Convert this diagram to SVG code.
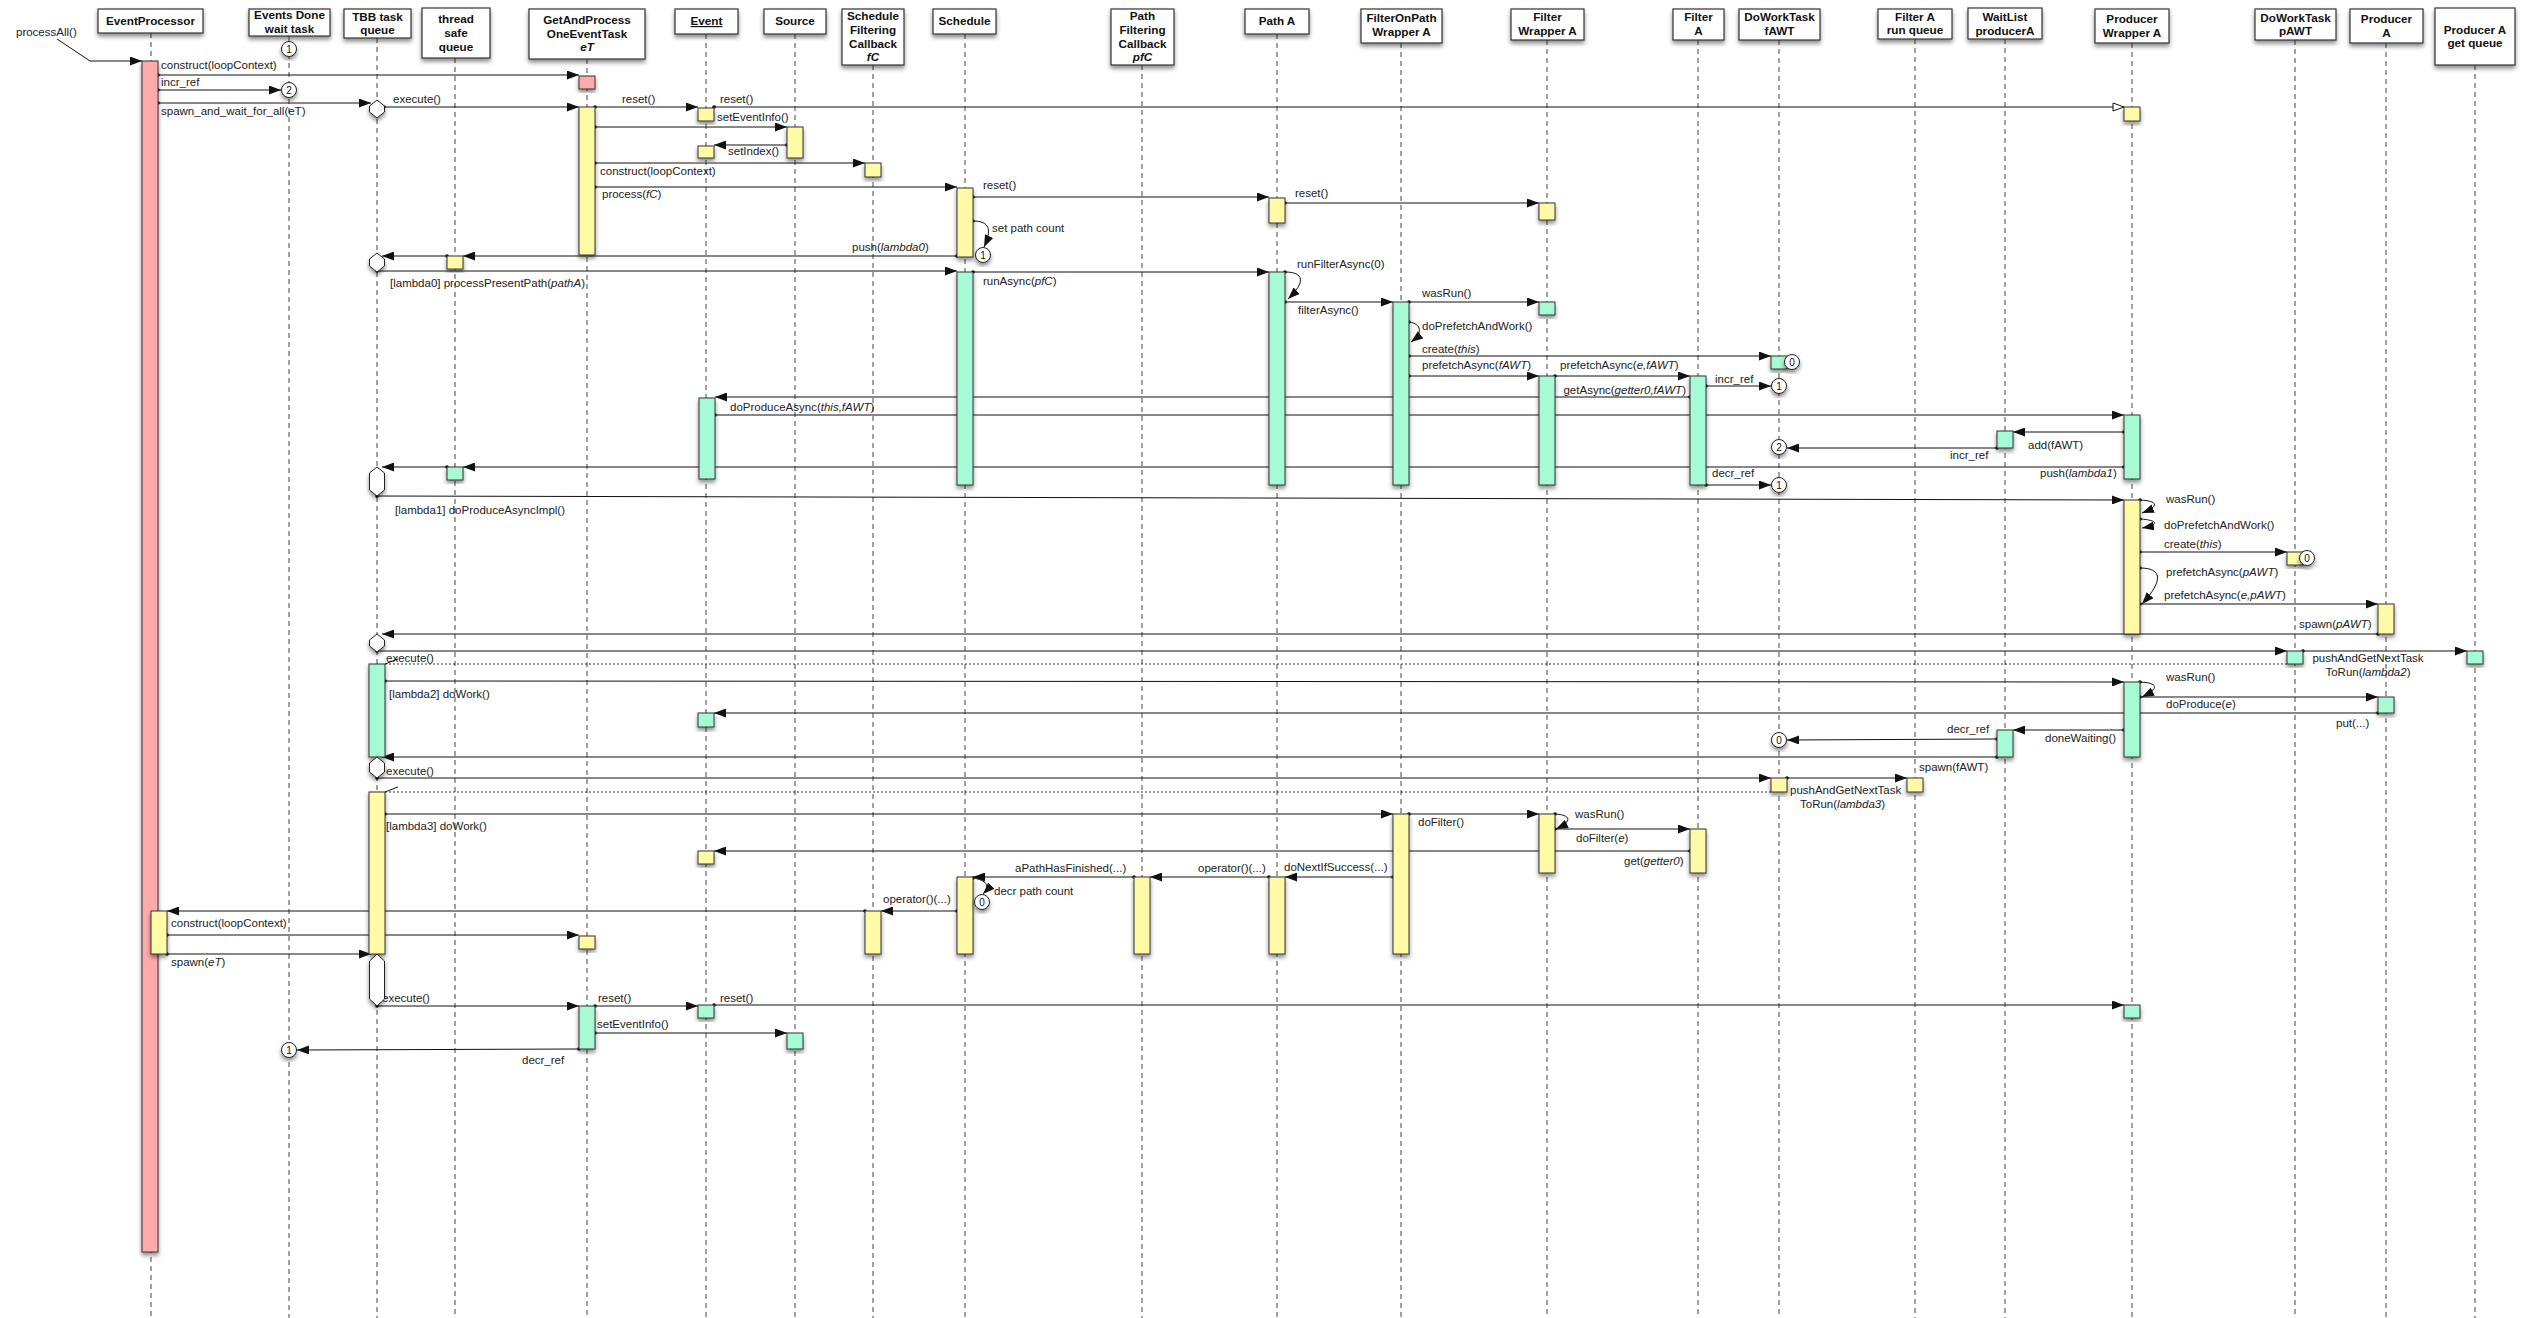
<svg xmlns="http://www.w3.org/2000/svg" width="2523" height="1318" viewBox="0 0 2523 1318">
<defs>
<filter id="sh" x="-30%" y="-30%" width="160%" height="160%"><feDropShadow dx="0" dy="3" stdDeviation="2" flood-color="#000" flood-opacity="0.45"/></filter>
<marker id="ah" viewBox="0 0 12 9" refX="12" refY="4.5" markerWidth="12" markerHeight="9" markerUnits="userSpaceOnUse" orient="auto"><path d="M0,0 L12,4.5 L0,9 z" fill="#111"/></marker>
<marker id="ao" viewBox="0 0 13 10" refX="12" refY="5" markerWidth="13" markerHeight="10" markerUnits="userSpaceOnUse" orient="auto"><path d="M1,1 L12,5 L1,9 z" fill="#fff" stroke="#111" stroke-width="1"/></marker>
<marker id="dt" viewBox="0 0 4 4" refX="2" refY="2" markerWidth="4" markerHeight="4" markerUnits="userSpaceOnUse"><circle cx="2" cy="2" r="1.8" fill="#111"/></marker>
</defs>
<style>
.hb{fill:#fff;stroke:#333;stroke-width:1.2;filter:url(#sh)}
.ht{font-family:"Liberation Sans",Arial,sans-serif;font-weight:bold;font-size:11.7px;text-anchor:middle;fill:#111}
.ll{stroke:#444;stroke-width:1;stroke-dasharray:5 4}
.m{stroke:#111;stroke-width:1;fill:none;marker-end:url(#ah);marker-start:url(#dt)}
.mo{stroke:#111;stroke-width:1;fill:none;marker-end:url(#ao);marker-start:url(#dt)}
.d{stroke:#333;stroke-width:1;fill:none;stroke-dasharray:2 2}
.k{stroke:#111;stroke-width:1;fill:none}
.l{font-family:"Liberation Sans",Arial,sans-serif;font-size:11.5px;fill:#222}
.i{font-style:italic}
.ap{fill:#FFAAAA;stroke:#333;stroke-width:1;filter:url(#sh)}
.ay{fill:#FFFAA6;stroke:#333;stroke-width:1;filter:url(#sh)}
.ag{fill:#A6FAD5;stroke:#333;stroke-width:1;filter:url(#sh)}
.hx{fill:#fff;stroke:#222;stroke-width:1;filter:url(#sh)}
.cc{fill:#fff;stroke:#222;stroke-width:1;filter:url(#sh)}
.ct{font-family:"Liberation Sans",Arial,sans-serif;font-size:10px;text-anchor:middle;fill:#111}
</style>
<rect x="0" y="0" width="2523" height="1318" fill="#fff"/>

<g id="n-eventprocessor"><line class="ll" x1="151" y1="33" x2="151" y2="1318"/><rect class="hb" x="98" y="9" width="105" height="24"/><text class="ht" x="150.5" y="25">EventProcessor</text></g>
<g id="n-eventsdone"><line class="ll" x1="289" y1="36" x2="289" y2="1318"/><rect class="hb" x="249" y="9" width="81" height="27"/><text class="ht" x="289.5" y="19">Events Done</text><text class="ht" x="289.5" y="33">wait task</text></g>
<g id="n-tbb"><line class="ll" x1="377" y1="38" x2="377" y2="1318"/><rect class="hb" x="344" y="9" width="67" height="29"/><text class="ht" x="377.5" y="21">TBB task</text><text class="ht" x="377.5" y="34">queue</text></g>
<g id="n-tsq"><line class="ll" x1="455" y1="58" x2="455" y2="1318"/><rect class="hb" x="422" y="8" width="68" height="50"/><text class="ht" x="456" y="23">thread</text><text class="ht" x="456" y="37">safe</text><text class="ht" x="456" y="51">queue</text></g>
<g id="n-gap"><line class="ll" x1="587" y1="59" x2="587" y2="1318"/><rect class="hb" x="529" y="9" width="116" height="50"/><text class="ht" x="587" y="24">GetAndProcess</text><text class="ht" x="587" y="38">OneEventTask</text><text class="ht i" x="587" y="51">eT</text></g>
<g id="n-event"><line class="ll" x1="706" y1="34" x2="706" y2="1318"/><rect class="hb" x="675" y="9" width="63" height="25"/><text class="ht" x="706.5" y="25" text-decoration="underline">Event</text></g>
<g id="n-source"><line class="ll" x1="795" y1="34" x2="795" y2="1318"/><rect class="hb" x="764" y="9" width="62" height="25"/><text class="ht" x="795" y="25">Source</text></g>
<g id="n-sfc"><line class="ll" x1="873" y1="65" x2="873" y2="1318"/><rect class="hb" x="842" y="9" width="62" height="56"/><text class="ht" x="873" y="20">Schedule</text><text class="ht" x="873" y="34">Filtering</text><text class="ht" x="873" y="48">Callback</text><text class="ht i" x="873" y="61">fC</text></g>
<g id="n-schedule"><line class="ll" x1="965" y1="34" x2="965" y2="1318"/><rect class="hb" x="933" y="9" width="63" height="25"/><text class="ht" x="964.5" y="25">Schedule</text></g>
<g id="n-pfc"><line class="ll" x1="1142" y1="65" x2="1142" y2="1318"/><rect class="hb" x="1111" y="9" width="63" height="56"/><text class="ht" x="1142.5" y="20">Path</text><text class="ht" x="1142.5" y="34">Filtering</text><text class="ht" x="1142.5" y="48">Callback</text><text class="ht i" x="1142.5" y="61">pfC</text></g>
<g id="n-patha"><line class="ll" x1="1277" y1="34" x2="1277" y2="1318"/><rect class="hb" x="1245" y="9" width="64" height="25"/><text class="ht" x="1277" y="25">Path A</text></g>
<g id="n-fopw"><line class="ll" x1="1401" y1="43" x2="1401" y2="1318"/><rect class="hb" x="1361" y="9" width="81" height="34"/><text class="ht" x="1401.5" y="22">FilterOnPath</text><text class="ht" x="1401.5" y="36">Wrapper A</text></g>
<g id="n-fwa"><line class="ll" x1="1547" y1="40" x2="1547" y2="1318"/><rect class="hb" x="1511" y="9" width="73" height="31"/><text class="ht" x="1547.5" y="21">Filter</text><text class="ht" x="1547.5" y="35">Wrapper A</text></g>
<g id="n-fa"><line class="ll" x1="1698" y1="40" x2="1698" y2="1318"/><rect class="hb" x="1673" y="9" width="51" height="31"/><text class="ht" x="1698.5" y="21">Filter</text><text class="ht" x="1698.5" y="35">A</text></g>
<g id="n-dwtf"><line class="ll" x1="1779" y1="40" x2="1779" y2="1318"/><rect class="hb" x="1739" y="9" width="81" height="31"/><text class="ht" x="1779.5" y="21">DoWorkTask</text><text class="ht" x="1779.5" y="35">fAWT</text></g>
<g id="n-farq"><line class="ll" x1="1915" y1="39" x2="1915" y2="1318"/><rect class="hb" x="1878" y="9" width="74" height="30"/><text class="ht" x="1915" y="21">Filter A</text><text class="ht" x="1915" y="34">run queue</text></g>
<g id="n-waitlist"><line class="ll" x1="2005" y1="39" x2="2005" y2="1318"/><rect class="hb" x="1968" y="8" width="74" height="31"/><text class="ht" x="2005" y="21">WaitList</text><text class="ht" x="2005" y="35">producerA</text></g>
<g id="n-pwa"><line class="ll" x1="2132" y1="43" x2="2132" y2="1318"/><rect class="hb" x="2095" y="9" width="74" height="34"/><text class="ht" x="2132" y="23">Producer</text><text class="ht" x="2132" y="37">Wrapper A</text></g>
<g id="n-dwtp"><line class="ll" x1="2295" y1="40" x2="2295" y2="1318"/><rect class="hb" x="2255" y="9" width="81" height="31"/><text class="ht" x="2295.5" y="22">DoWorkTask</text><text class="ht" x="2295.5" y="35">pAWT</text></g>
<g id="n-producera"><line class="ll" x1="2386" y1="43" x2="2386" y2="1318"/><rect class="hb" x="2350" y="9" width="73" height="34"/><text class="ht" x="2386.5" y="23">Producer</text><text class="ht" x="2386.5" y="37">A</text></g>
<g id="n-pgq"><line class="ll" x1="2475" y1="65" x2="2475" y2="1318"/><rect class="hb" x="2435" y="8" width="80" height="57"/><text class="ht" x="2475" y="34">Producer A</text><text class="ht" x="2475" y="47">get queue</text></g>

<g id="connectors">
<text class="l" x="16" y="36">processAll()</text>
<polyline class="k" points="57,39 90,61 142,61" style="marker-end:url(#ah)"/>
<line class="m" x1="158" y1="75" x2="579" y2="75"/><text class="l" x="161" y="69">construct(loopContext)</text>
<line class="m" x1="158" y1="90" x2="281" y2="90"/><text class="l" x="161" y="86">incr_ref</text>
<line class="m" x1="158" y1="103" x2="371" y2="103"/><text class="l" x="161" y="115">spawn_and_wait_for_all(eT)</text>
<line class="m" x1="384" y1="107" x2="579" y2="107"/><text class="l" x="393" y="103">execute()</text>
<line class="m" x1="595" y1="107" x2="698" y2="107"/><text class="l" x="622" y="103">reset()</text>
<line class="mo" x1="714" y1="107" x2="2124" y2="107"/><text class="l" x="720" y="103">reset()</text>
<line class="m" x1="595" y1="127" x2="787" y2="127"/><text class="l" x="717" y="121">setEventInfo()</text>
<line class="m" x1="787" y1="145" x2="714" y2="145"/><text class="l" x="728" y="155">setIndex()</text>
<line class="m" x1="595" y1="163" x2="865" y2="163"/><text class="l" x="600" y="175">construct(loopContext)</text>
<line class="m" x1="595" y1="187" x2="957" y2="187"/><text class="l" x="602" y="198">process(<tspan class="i">fC</tspan>)</text>
<line class="m" x1="973" y1="197" x2="1269" y2="197"/><text class="l" x="983" y="189">reset()</text>
<line class="m" x1="1285" y1="203" x2="1539" y2="203"/><text class="l" x="1295" y="197">reset()</text>
<path class="m" d="M973,221 C990,221 992,230 984,247"/><text class="l" x="992" y="232">set path count</text>
<line class="m" x1="957" y1="256" x2="463" y2="256"/><text class="l" x="852" y="251">push(<tspan class="i">lambda0</tspan>)</text>
<line class="m" x1="447" y1="256" x2="382" y2="256"/>
<line class="m" x1="377" y1="271" x2="957" y2="271"/><text class="l" x="390" y="287">[lambda0] processPresentPath(<tspan class="i">pathA</tspan>)</text>
<line class="m" x1="973" y1="272" x2="1269" y2="272"/><text class="l" x="983" y="285">runAsync(<tspan class="i">pfC</tspan>)</text>
<path class="m" d="M1285,272 C1304,272 1306,282 1288,299"/><text class="l" x="1297" y="268">runFilterAsync(0)</text>
<line class="m" x1="1285" y1="302" x2="1393" y2="302"/><text class="l" x="1298" y="314">filterAsync()</text>
<line class="m" x1="1409" y1="302" x2="1539" y2="302"/><text class="l" x="1422" y="297">wasRun()</text>
<path class="m" d="M1409,322 C1422,324 1423,333 1411,342"/><text class="l" x="1422" y="330">doPrefetchAndWork()</text>
<line class="m" x1="1409" y1="356" x2="1771" y2="356"/><text class="l" x="1422" y="353">create(<tspan class="i">this</tspan>)</text>
<line class="m" x1="1409" y1="376" x2="1539" y2="376"/><text class="l" x="1422" y="369">prefetchAsync(<tspan class="i">fAWT</tspan>)</text>
<line class="m" x1="1555" y1="376" x2="1690" y2="376"/><text class="l" x="1560" y="369">prefetchAsync(<tspan class="i">e,fAWT</tspan>)</text>
<line class="m" x1="1706" y1="386" x2="1771" y2="386"/><text class="l" x="1715" y="383">incr_ref</text>
<line class="m" x1="1690" y1="397" x2="715" y2="397"/><text class="l" x="1686" y="394" text-anchor="end">getAsync(<tspan class="i">getter0,fAWT</tspan>)</text>
<line class="m" x1="715" y1="415" x2="2124" y2="415"/><text class="l" x="730" y="411">doProduceAsync(<tspan class="i">this,fAWT</tspan>)</text>
<line class="m" x1="2124" y1="432" x2="2013" y2="432"/><text class="l" x="2028" y="449">add(fAWT)</text>
<line class="m" x1="1997" y1="448" x2="1787" y2="448"/><text class="l" x="1950" y="459">incr_ref</text>
<line class="m" x1="2124" y1="467" x2="463" y2="467"/><text class="l" x="2040" y="477">push(<tspan class="i">lambda1</tspan>)</text>
<line class="m" x1="447" y1="467" x2="382" y2="467"/>
<line class="m" x1="1706" y1="485" x2="1771" y2="485"/><text class="l" x="1712" y="477">decr_ref</text>
<line class="m" x1="377" y1="496" x2="2124" y2="500"/><text class="l" x="395" y="514">[lambda1] doProduceAsyncImpl()</text>
<path class="m" d="M2140,500 C2158,501 2160,506 2142,513"/><text class="l" x="2166" y="503">wasRun()</text>
<path class="m" d="M2140,519 C2158,520 2160,525 2142,528"/><text class="l" x="2164" y="529">doPrefetchAndWork()</text>
<line class="m" x1="2140" y1="552" x2="2287" y2="552"/><text class="l" x="2164" y="548">create(<tspan class="i">this</tspan>)</text>
<path class="m" d="M2140,568 C2162,568 2164,580 2142,604"/><text class="l" x="2166" y="576">prefetchAsync(<tspan class="i">pAWT</tspan>)</text>
<line class="m" x1="2140" y1="604" x2="2378" y2="604"/><text class="l" x="2164" y="599">prefetchAsync(<tspan class="i">e,pAWT</tspan>)</text>
<line class="m" x1="2378" y1="634" x2="382" y2="634"/><text class="l" x="2299" y="628">spawn(<tspan class="i">pAWT</tspan>)</text>
<line class="m" x1="377" y1="651" x2="2287" y2="651"/><text class="l" x="386" y="662">execute()</text>
<line class="m" x1="2303" y1="651" x2="2467" y2="651"/><text class="l" x="2368" y="662" text-anchor="middle">pushAndGetNextTask</text><text class="l" x="2368" y="676" text-anchor="middle">ToRun(<tspan class="i">lambda2</tspan>)</text>
<line class="d" x1="2287" y1="664" x2="385" y2="664"/><path class="k" d="M398,659 L385,664"/>
<line class="m" x1="385" y1="681" x2="2124" y2="682"/><text class="l" x="389" y="698">[lambda2] doWork()</text>
<path class="m" d="M2140,682 C2158,683 2160,688 2142,697"/><text class="l" x="2166" y="681">wasRun()</text>
<line class="m" x1="2140" y1="697" x2="2378" y2="697"/><text class="l" x="2166" y="708">doProduce(<tspan class="i">e</tspan>)</text>
<line class="m" x1="2378" y1="713" x2="714" y2="713"/><text class="l" x="2336" y="727">put(...)</text>
<line class="m" x1="2124" y1="730" x2="2013" y2="730"/><text class="l" x="2045" y="742">doneWaiting()</text>
<line class="m" x1="1997" y1="739" x2="1787" y2="740"/><text class="l" x="1947" y="733">decr_ref</text>
<line class="m" x1="1997" y1="757" x2="382" y2="757"/><text class="l" x="1919" y="771">spawn(fAWT)</text>
<line class="m" x1="377" y1="778" x2="1771" y2="778"/><text class="l" x="386" y="775">execute()</text>
<line class="m" x1="1787" y1="778" x2="1907" y2="778"/><text class="l" x="1790" y="794">pushAndGetNextTask</text><text class="l" x="1800" y="808">ToRun(<tspan class="i">lambda3</tspan>)</text>
<line class="d" x1="1771" y1="792" x2="385" y2="792"/><path class="k" d="M398,787 L385,792"/>
<line class="m" x1="385" y1="814" x2="1393" y2="814"/><text class="l" x="386" y="830">[lambda3] doWork()</text>
<line class="m" x1="1409" y1="814" x2="1539" y2="814"/><text class="l" x="1418" y="826">doFilter()</text>
<path class="m" d="M1555,814 C1571,815 1573,821 1556,829"/><text class="l" x="1575" y="818">wasRun()</text>
<line class="m" x1="1555" y1="829" x2="1690" y2="829"/><text class="l" x="1576" y="842">doFilter(<tspan class="i">e</tspan>)</text>
<line class="m" x1="1690" y1="851" x2="714" y2="851"/><text class="l" x="1624" y="865">get(<tspan class="i">getter0</tspan>)</text>
<line class="m" x1="1393" y1="877" x2="1285" y2="877"/><text class="l" x="1284" y="871">doNextIfSuccess(...)</text>
<line class="m" x1="1269" y1="877" x2="1150" y2="877"/><text class="l" x="1198" y="872">operator()(...)</text>
<line class="m" x1="1134" y1="877" x2="973" y2="877"/><text class="l" x="1015" y="872">aPathHasFinished(...)</text>
<path class="m" d="M973,878 C986,880 991,886 983,894"/><text class="l" x="994" y="895">decr path count</text>
<line class="m" x1="957" y1="911" x2="881" y2="911"/><text class="l" x="883" y="903">operator()(...)</text>
<line class="m" x1="865" y1="911" x2="167" y2="911"/>
<line class="m" x1="167" y1="935" x2="579" y2="935"/><text class="l" x="171" y="927">construct(loopContext)</text>
<line class="m" x1="167" y1="954" x2="371" y2="954"/><text class="l" x="171" y="966">spawn(<tspan class="i">eT</tspan>)</text>
<line class="m" x1="377" y1="1006" x2="579" y2="1006"/><text class="l" x="382" y="1002">execute()</text>
<line class="m" x1="595" y1="1006" x2="698" y2="1006"/><text class="l" x="598" y="1002">reset()</text>
<line class="m" x1="714" y1="1005" x2="2124" y2="1005"/><text class="l" x="720" y="1002">reset()</text>
<line class="m" x1="595" y1="1033" x2="787" y2="1033"/><text class="l" x="597" y="1028">setEventInfo()</text>
<line class="m" x1="579" y1="1049" x2="297" y2="1050"/><text class="l" x="522" y="1064">decr_ref</text>
</g>

<g id="activations">
<rect class="ap" x="142" y="61" width="16" height="1191"/>
<rect class="ay" x="151" y="911" width="16" height="43"/>
<rect class="ap" x="579" y="76" width="16" height="13"/>
<rect class="ay" x="579" y="107" width="16" height="148"/>
<rect class="ay" x="579" y="936" width="16" height="13"/>
<rect class="ag" x="579" y="1006" width="16" height="43"/>
<rect class="ay" x="698" y="108" width="16" height="13"/>
<rect class="ay" x="698" y="146" width="16" height="12"/>
<rect class="ag" x="699" y="398" width="16" height="81"/>
<rect class="ag" x="698" y="713" width="16" height="14"/>
<rect class="ay" x="698" y="851" width="16" height="13"/>
<rect class="ag" x="698" y="1005" width="16" height="13"/>
<rect class="ay" x="787" y="127" width="16" height="31"/>
<rect class="ag" x="787" y="1033" width="16" height="16"/>
<rect class="ay" x="865" y="163" width="16" height="14"/>
<rect class="ay" x="865" y="911" width="16" height="43"/>
<rect class="ay" x="957" y="188" width="16" height="69"/>
<rect class="ag" x="957" y="272" width="16" height="213"/>
<rect class="ay" x="957" y="877" width="16" height="77"/>
<rect class="ay" x="1134" y="877" width="16" height="77"/>
<rect class="ay" x="1269" y="198" width="16" height="25"/>
<rect class="ag" x="1269" y="272" width="16" height="213"/>
<rect class="ay" x="1269" y="877" width="16" height="77"/>
<rect class="ag" x="1393" y="302" width="16" height="183"/>
<rect class="ay" x="1393" y="814" width="16" height="140"/>
<rect class="ay" x="1539" y="203" width="16" height="17"/>
<rect class="ag" x="1539" y="302" width="16" height="13"/>
<rect class="ag" x="1539" y="376" width="16" height="109"/>
<rect class="ay" x="1539" y="814" width="16" height="59"/>
<rect class="ag" x="1690" y="376" width="16" height="109"/>
<rect class="ay" x="1690" y="829" width="16" height="44"/>
<rect class="ag" x="1771" y="356" width="16" height="13"/>
<rect class="ay" x="1771" y="778" width="16" height="14"/>
<rect class="ay" x="1907" y="778" width="16" height="14"/>
<rect class="ag" x="1997" y="431" width="16" height="17"/>
<rect class="ag" x="1997" y="730" width="16" height="27"/>
<rect class="ay" x="2124" y="107" width="16" height="14"/>
<rect class="ag" x="2124" y="415" width="16" height="64"/>
<rect class="ay" x="2124" y="500" width="16" height="134"/>
<rect class="ag" x="2124" y="682" width="16" height="75"/>
<rect class="ag" x="2124" y="1005" width="16" height="13"/>
<rect class="ay" x="2287" y="552" width="16" height="13"/>
<rect class="ag" x="2287" y="651" width="16" height="13"/>
<rect class="ay" x="2378" y="604" width="16" height="30"/>
<rect class="ag" x="2378" y="697" width="16" height="16"/>
<rect class="ag" x="2467" y="651" width="16" height="13"/>
<rect class="ay" x="447" y="256" width="16" height="13"/>
<rect class="ag" x="447" y="467" width="16" height="13"/>
<rect class="ag" x="369" y="664" width="16" height="93"/>
<rect class="ay" x="369" y="792" width="16" height="162"/>
</g>

<g id="tbb-states">
<polygon class="hx" points="377,100 384.5,106 384.5,112 377,118 369.5,112 369.5,106"/>
<polygon class="hx" points="377,253 384.5,259 384.5,266 377,272 369.5,266 369.5,259"/>
<polygon class="hx" points="377,467 384.5,473 384.5,490 377,496 369.5,490 369.5,473"/>
<polygon class="hx" points="377,634 384.5,640 384.5,646 377,652 369.5,646 369.5,640"/>
<polygon class="hx" points="377,757 384.5,763 384.5,772 377,778 369.5,772 369.5,763"/>
<polygon class="hx" points="377,954 384.5,961 384.5,999 377,1006 369.5,999 369.5,961"/>
</g>

<g id="counters">
<circle class="cc" cx="289" cy="49" r="7.5"/><text class="ct" x="289" y="52.5">1</text>
<circle class="cc" cx="289" cy="90" r="7.5"/><text class="ct" x="289" y="93.5">2</text>
<circle class="cc" cx="289" cy="1050" r="7.5"/><text class="ct" x="289" y="1053.5">1</text>
<circle class="cc" cx="983" cy="255" r="7.5"/><text class="ct" x="983" y="258.5">1</text>
<circle class="cc" cx="982" cy="902" r="7.5"/><text class="ct" x="982" y="905.5">0</text>
<circle class="cc" cx="1792" cy="362" r="7.5"/><text class="ct" x="1792" y="365.5">0</text>
<circle class="cc" cx="1779" cy="386" r="7.5"/><text class="ct" x="1779" y="389.5">1</text>
<circle class="cc" cx="1779" cy="447" r="7.5"/><text class="ct" x="1779" y="450.5">2</text>
<circle class="cc" cx="1779" cy="485" r="7.5"/><text class="ct" x="1779" y="488.5">1</text>
<circle class="cc" cx="1779" cy="740" r="7.5"/><text class="ct" x="1779" y="743.5">0</text>
<circle class="cc" cx="2307" cy="558" r="7.5"/><text class="ct" x="2307" y="561.5">0</text>
</g>
</svg>
